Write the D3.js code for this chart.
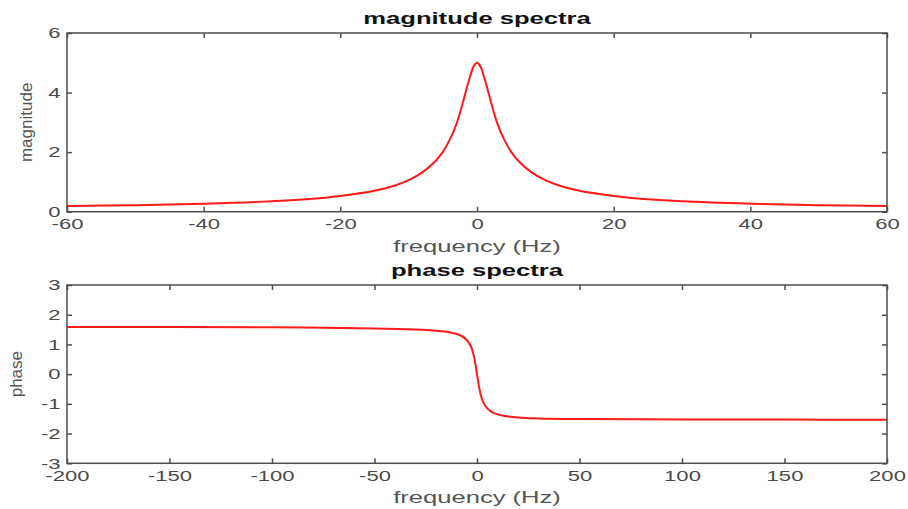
<!DOCTYPE html>
<html>
<head>
<meta charset="utf-8">
<script src="https://cdn.jsdelivr.net/npm/d3@7"></script>
<style>
  body { margin: 0; background: #fff; }
  svg { display: block; font-family: "Liberation Sans", Arial, sans-serif; }
</style>
</head>
<body>
<div id="chart"></div>
<script>
// values
const magFreq = [-60, -50, -40, -30, -25, -20, -15, -12, -10, -8, -6, -5, -4, -3, -2, -1.5, -1, -0.5, 0,
                 0.5, 1, 1.5, 2, 3, 4, 5, 6, 8, 10, 12, 15, 20, 25, 30, 40, 50, 60];
const magValue = [0.19, 0.22, 0.27, 0.35, 0.42, 0.53, 0.70, 0.88, 1.06, 1.32, 1.72, 2.01, 2.41, 2.95, 3.72, 4.15, 4.55, 4.88, 5.00,
                  4.88, 4.55, 4.15, 3.72, 2.95, 2.41, 2.01, 1.72, 1.32, 1.06, 0.88, 0.70, 0.53, 0.42, 0.35, 0.27, 0.22, 0.19];

const phFreq = [-200, -150, -100, -50, -30, -20, -13, -8, -5, -3, -2, -1, -0.5, 0,
                0.5, 1, 2, 3, 5, 8, 13, 20, 30, 50, 100, 150, 200];
const phValue = [1.59, 1.585, 1.575, 1.54, 1.50, 1.46, 1.40, 1.30, 1.15, 0.94, 0.74, 0.43, 0.22, 0,
                 -0.22, -0.43, -0.74, -0.94, -1.15, -1.30, -1.40, -1.46, -1.49, -1.51, -1.525, -1.53, -1.535];

const magXTicks = [-60, -40, -20, 0, 20, 40, 60];
const magYTicks = [0, 2, 4, 6];
const phXTicks = [-200, -150, -100, -50, 0, 50, 100, 150, 200];
const phYTicks = [-3, -2, -1, 0, 1, 2, 3];

const W = 908, H = 509;
const left = 67, right = 887;
const sx = 1.47; // the picture is stretched sideways
const fmt = d => String(d); // plain hyphen minus, no decimals

const svg = d3.select("#chart").append("svg")
    .attr("width", W)
    .attr("height", H);

function panel(opts) {
    const x = d3.scaleLinear().domain(opts.xDomain).range([left, right]);
    const y = d3.scaleLinear().domain(opts.yDomain).range([opts.bottom, opts.top]);
    const g = svg.append("g");

    // bottom axis with labels, ticks pointing in
    const bx = g.append("g")
        .attr("transform", `translate(0,${opts.bottom})`)
        .call(d3.axisBottom(x).tickValues(opts.xTicks).tickFormat(fmt).tickSizeInner(-5).tickSizeOuter(0).tickPadding(7));
    // top mirror ticks
    g.append("g")
        .attr("transform", `translate(0,${opts.top})`)
        .call(d3.axisTop(x).tickValues(opts.xTicks).tickSizeInner(-5).tickSizeOuter(0).tickFormat(""));
    // left axis with labels
    const ly = g.append("g")
        .attr("transform", `translate(${left},0)`)
        .call(d3.axisLeft(y).tickValues(opts.yTicks).tickFormat(fmt).tickSizeInner(-5).tickSizeOuter(0).tickPadding(6));
    // right mirror ticks
    g.append("g")
        .attr("transform", `translate(${right},0)`)
        .call(d3.axisRight(y).tickValues(opts.yTicks).tickSizeInner(-5).tickSizeOuter(0).tickFormat(""));

    g.selectAll(".domain").remove();
    g.selectAll(".tick line").attr("stroke", "#4d4d4d").attr("stroke-width", 1.5);

    bx.selectAll("text")
        .attr("font-size", 15)
        .attr("fill", "#4a4a4a")
        .attr("font-family", "Liberation Sans, Arial, sans-serif")
        .attr("transform", `scale(${sx},1)`);
    ly.selectAll("text")
        .attr("font-size", 15)
        .attr("fill", "#4a4a4a")
        .attr("font-family", "Liberation Sans, Arial, sans-serif")
        .attr("x", -6.5 / sx)
        .attr("transform", `scale(${sx},1)`);

    // the curve
    const line = d3.line()
        .x(d => x(d[0]))
        .y(d => y(d[1]))
        .curve(d3.curveCatmullRom.alpha(0.5));
    g.append("path")
        .datum(opts.xs.map((f, i) => [f, opts.ys[i]]))
        .attr("fill", "none")
        .attr("stroke", "#ff1a1a")
        .attr("stroke-width", 2)
        .attr("d", line);

    // box
    g.append("rect")
        .attr("x", left)
        .attr("y", opts.top)
        .attr("width", right - left)
        .attr("height", opts.bottom - opts.top)
        .attr("fill", "none")
        .attr("stroke", "#4d4d4d")
        .attr("stroke-width", 1.5);

    const cx = (left + right) / 2;
    // title
    g.append("text")
        .attr("transform", `translate(${cx},${opts.top - 9}) scale(1.6,1)`)
        .attr("text-anchor", "middle")
        .attr("font-size", 16)
        .attr("font-weight", "bold")
        .attr("fill", "#111")
        .text(opts.title);
    // x label
    g.append("text")
        .attr("transform", `translate(${cx},${opts.bottom + 40}) scale(1.6,1)`)
        .attr("text-anchor", "middle")
        .attr("font-size", 16)
        .attr("fill", "#555")
        .text("frequency (Hz)");
    // y label
    g.append("text")
        .attr("transform", `translate(${opts.ylabelX},${(opts.top + opts.bottom) / 2}) rotate(-90)`)
        .attr("text-anchor", "middle")
        .attr("font-size", 17)
        .attr("fill", "#555")
        .text(opts.ylabel);
}

panel({
    xDomain: [-60, 60], yDomain: [0, 6],
    top: 33, bottom: 211.7,
    xTicks: magXTicks, yTicks: magYTicks,
    xs: magFreq, ys: magValue,
    title: "magnitude spectra", ylabel: "magnitude", ylabelX: 32
});

panel({
    xDomain: [-200, 200], yDomain: [-3, 3],
    top: 285, bottom: 463.3,
    xTicks: phXTicks, yTicks: phYTicks,
    xs: phFreq, ys: phValue,
    title: "phase spectra", ylabel: "phase", ylabelX: 22
});
</script>
</body>
</html>
